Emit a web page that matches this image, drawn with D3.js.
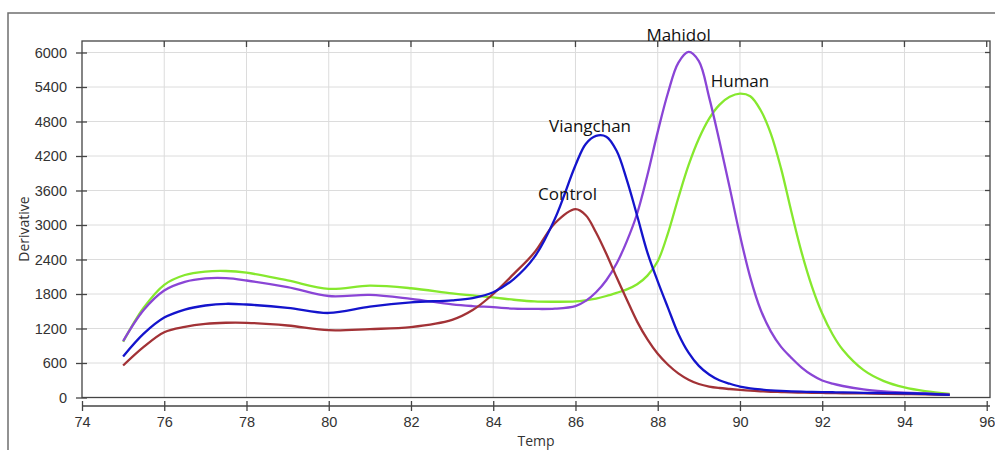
<!DOCTYPE html>
<html>
<head>
<meta charset="utf-8">
<script src="https://cdn.jsdelivr.net/npm/d3@7"></script>
<style>
  body { margin: 0; background: #fff; }
  svg { display: block; font-family: "Open Sans", "Noto Sans", sans-serif; }
</style>
</head>
<body>
<div id="chart"></div>
<script>
// melt curve derivative values
const temps = [75, 75.5, 76, 76.5, 77, 77.5, 78, 79, 80, 81, 82, 83, 83.5, 84, 84.5, 85, 85.5, 86,
  86.25, 86.5, 86.75, 87, 87.25, 87.5, 87.75, 88, 88.25, 88.5, 88.75, 89, 89.25, 89.5, 89.75, 90,
  90.25, 90.5, 90.75, 91, 91.25, 91.5, 91.75, 92, 92.25, 92.5, 93, 93.5, 94, 94.5, 95.1];

const human = [970, 1560, 1960, 2130, 2190, 2200, 2170, 2035, 1890, 1945, 1900, 1810, 1775, 1740, 1700, 1670, 1665, 1670,
  1690, 1720, 1765, 1820, 1880, 1970, 2120, 2370, 2860, 3470, 4040, 4500, 4850, 5090, 5230, 5285,
  5240, 5000, 4590, 3980, 3230, 2520, 1930, 1460, 1100, 830, 480, 285, 175, 110, 64];

const mahidol = [980, 1520, 1860, 2010, 2070, 2075, 2035, 1920, 1765, 1785, 1715, 1620, 1590, 1570, 1545, 1540, 1545, 1590,
  1680, 1830, 2040, 2330, 2720, 3200, 3870, 4620, 5300, 5820, 6010, 5850, 5220, 4460, 3650, 2820,
  2090, 1530, 1150, 880, 690, 520, 390, 295, 240, 200, 140, 106, 86, 70, 48];

const control = [556, 880, 1136, 1230, 1281, 1300, 1299, 1252, 1170, 1190, 1225, 1350, 1520, 1800, 2150, 2520, 3030, 3275,
  3170, 2870, 2500, 2090, 1700, 1320, 1010, 760, 570, 420, 310, 235, 190, 165, 148, 132,
  118, 108, 100, 95, 90, 86, 82, 79, 76, 74, 70, 65, 60, 55, 47];

const viangchan = [713, 1110, 1390, 1530, 1600, 1630, 1617, 1560, 1470, 1580, 1655, 1690, 1730, 1830, 2060, 2440, 3110, 4040,
  4410, 4550, 4535, 4290, 3780, 3160, 2520, 2020, 1560, 1110, 780, 550, 400, 300, 240, 190,
  160, 140, 125, 115, 108, 102, 97, 94, 91, 88, 82, 78, 74, 65, 45];

const seriesNames = ["Human", "Mahidol", "Control", "Viangchan"];
const xTicks = [74, 76, 78, 80, 82, 84, 86, 88, 90, 92, 94, 96];
const yTicks = [0, 600, 1200, 1800, 2400, 3000, 3600, 4200, 4800, 5400, 6000];

const series = [
  { name: seriesNames[0], values: human, color: "#86e82e", dx: 0, dy: -7 },
  { name: seriesNames[1], values: mahidol, color: "#8a45d6", dx: -10, dy: -11 },
  { name: seriesNames[2], values: control, color: "#a23236", dx: -8, dy: -9 },
  { name: seriesNames[3], values: viangchan, color: "#1414cc", dx: -6, dy: -4 }
];

const W = 995, H = 450;
const plot = { left: 82, right: 990, top: 41, bottom: 397.5 };

const svg = d3.select("#chart").append("svg")
    .attr("width", W)
    .attr("height", H);

// outer frame of the window
svg.append("path")
    .attr("d", `M8,${H} V13 H${W}`)
    .attr("fill", "none")
    .attr("stroke", "#6f6f6f")
    .attr("stroke-width", 1.5);

const x = d3.scaleLinear().domain([74, 96.08]).range([plot.left, plot.right]);
const y = d3.scaleLinear().domain([0, 6200]).range([plot.bottom, plot.top]);

// grid
svg.append("g").selectAll("line")
    .data(xTicks.filter(d => d > 74 && d < 96))
    .join("line")
    .attr("x1", d => x(d)).attr("x2", d => x(d))
    .attr("y1", plot.top).attr("y2", plot.bottom)
    .attr("stroke", "#dcdcdc");

svg.append("g").selectAll("line")
    .data(yTicks.filter(d => d > 0))
    .join("line")
    .attr("x1", plot.left).attr("x2", plot.right)
    .attr("y1", d => y(d)).attr("y2", d => y(d))
    .attr("stroke", "#dcdcdc");

// plot border
svg.append("rect")
    .attr("x", plot.left).attr("y", plot.top)
    .attr("width", plot.right - plot.left)
    .attr("height", plot.bottom - plot.top)
    .attr("fill", "none")
    .attr("stroke", "#444")
    .attr("stroke-width", 1.3);

// small ticks on top and right borders
svg.append("g").selectAll("line")
    .data(xTicks.slice(1))
    .join("line")
    .attr("x1", d => x(d)).attr("x2", d => x(d))
    .attr("y1", plot.top).attr("y2", plot.top + 6)
    .attr("stroke", "#444").attr("stroke-width", 1.3);

svg.append("g").selectAll("line")
    .data(yTicks.slice(1))
    .join("line")
    .attr("x1", plot.right - 5).attr("x2", plot.right)
    .attr("y1", d => y(d)).attr("y2", d => y(d))
    .attr("stroke", "#444").attr("stroke-width", 1.3);

// y axis
const yAxis = svg.append("g")
    .attr("transform", `translate(${plot.left},0)`)
    .call(d3.axisLeft(y).tickValues(yTicks).tickFormat(d3.format("d")).tickSize(6).tickPadding(9));
yAxis.select(".domain").remove();
yAxis.selectAll(".tick line").attr("x1", 5).attr("stroke", "#444").attr("stroke-width", 1.3);
yAxis.selectAll(".tick text").attr("font-size", 14.5).attr("fill", "#333").attr("font-family", null);

// x axis (offset below the plot)
const xAxis = svg.append("g")
    .attr("transform", "translate(0,406)")
    .call(d3.axisBottom(x).tickValues(xTicks).tickSize(5).tickPadding(6));
xAxis.select(".domain")
    .attr("d", `M${plot.left},0H${plot.right}`)
    .attr("stroke", "#444").attr("stroke-width", 1.3);
xAxis.selectAll(".tick line").attr("y1", -5).attr("stroke", "#444").attr("stroke-width", 1.3);
xAxis.selectAll(".tick text").attr("font-size", 14.5).attr("fill", "#333").attr("font-family", null);

// axis titles
svg.append("text")
    .attr("transform", "translate(29,229) rotate(-90)")
    .attr("text-anchor", "middle")
    .attr("font-size", 14)
    .attr("fill", "#333")
    .text("Derivative");

svg.append("text")
    .attr("x", 536).attr("y", 446)
    .attr("text-anchor", "middle")
    .attr("font-size", 14)
    .attr("fill", "#333")
    .text("Temp");

// curves
const line = d3.line()
    .x((d, i) => x(temps[i]))
    .y(d => y(d))
    .curve(d3.curveCatmullRom.alpha(0.5));

svg.append("g").selectAll("path")
    .data(series)
    .join("path")
    .attr("d", d => line(d.values))
    .attr("fill", "none")
    .attr("stroke", d => d.color)
    .attr("stroke-width", 2.3)
    .attr("stroke-linejoin", "round");

// peak labels
svg.append("g").selectAll("text")
    .data(series)
    .join("text")
    .attr("x", d => x(temps[d3.maxIndex(d.values)]) + d.dx)
    .attr("y", d => y(d3.max(d.values)) + d.dy)
    .attr("text-anchor", "middle")
    .attr("font-size", 17)
    .attr("fill", "#111")
    .text(d => d.name);
</script>
</body>
</html>
